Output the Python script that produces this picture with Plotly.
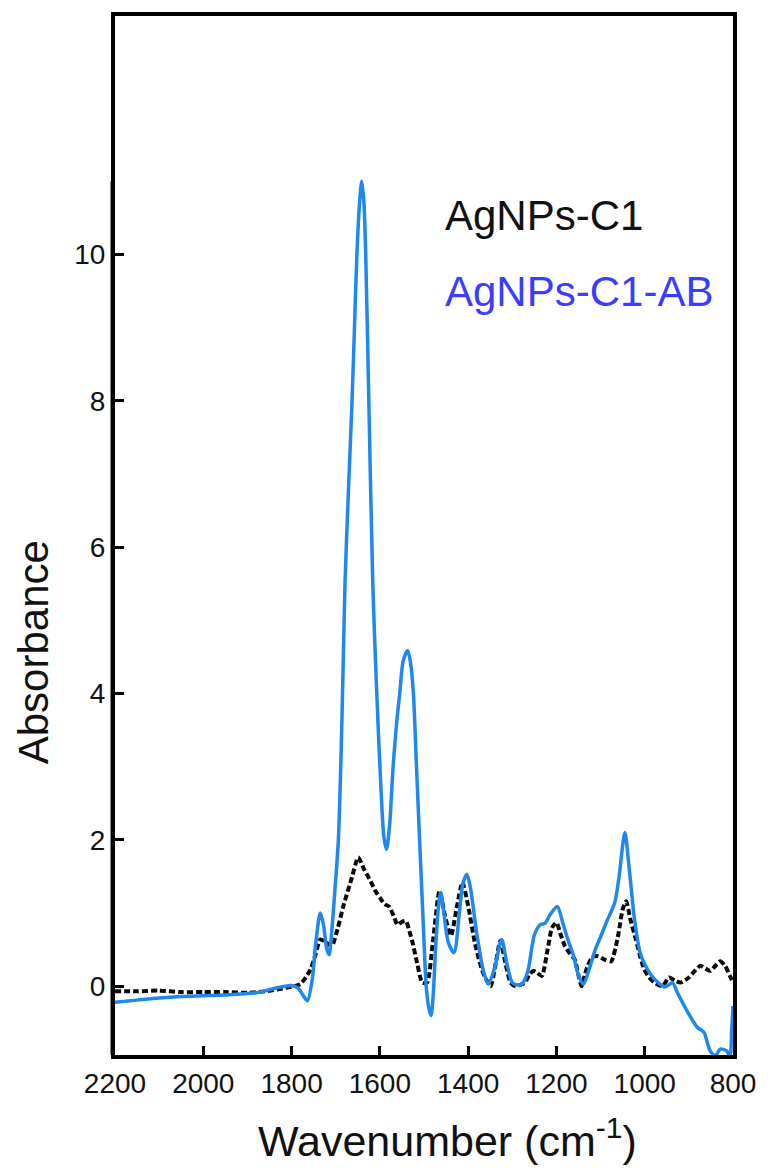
import plotly.graph_objects as go

# ---------------- data ----------------
wn_ab = [2200, 2150, 2100, 2050, 2000, 1950, 1900, 1870, 1840, 1800, 1785, 1770, 1764,
         1753, 1745, 1735, 1728, 1720, 1715, 1709, 1702, 1694, 1686, 1679, 1671, 1663,
         1657, 1652, 1646, 1641, 1636, 1632, 1625, 1616, 1607, 1599, 1591, 1585, 1578,
         1570, 1562, 1555, 1547, 1537, 1530, 1524, 1517, 1510, 1502, 1495, 1489, 1484,
         1479, 1473, 1467, 1462, 1455, 1445, 1432, 1420, 1412, 1403, 1395,
         1380, 1365, 1354, 1340, 1324, 1312, 1300, 1290, 1278, 1265, 1250, 1237, 1226,
         1215, 1198, 1185, 1172, 1163, 1150, 1139, 1125, 1112, 1099, 1085, 1068, 1058,
         1045, 1035, 1023, 1010, 1000, 985, 970, 956, 945, 937, 925, 903, 881, 866, 852,
         840, 829, 815, 807, 803, 800]
abs_ab = [-0.22, -0.19, -0.16, -0.14, -0.13, -0.12, -0.10, -0.08, -0.03, 0.01, -0.03, -0.16, -0.20,
          0.10, 0.60, 1.00, 0.85, 0.50, 0.43, 0.75, 1.30, 2.00, 3.60, 5.50, 6.80, 8.00,
          9.10, 10.00, 10.70, 11.00, 10.70, 10.00, 8.00, 5.50, 4.00, 2.90, 2.05, 1.87, 2.20,
          3.00, 3.60, 4.00, 4.45, 4.59, 4.40, 4.00, 3.00, 2.00, 0.90, 0.00, -0.30, -0.40,
          -0.10, 0.60, 1.10, 1.28, 1.00, 0.60, 0.46, 1.00, 1.40, 1.53, 1.35,
          0.70, 0.20, 0.03, 0.25, 0.64, 0.30, 0.05, 0.02, 0.03, 0.20, 0.70, 0.84, 0.86,
          0.97, 1.09, 0.85, 0.60, 0.45, 0.15, 0.03, 0.25, 0.50, 0.69, 0.90, 1.14, 1.50,
          2.10, 1.60, 0.91, 0.45, 0.30, 0.15, 0.05, -0.01, 0.02, 0.05, -0.10, -0.35, -0.56, -0.63, -0.88,
          -0.95, -0.86, -0.88, -0.95, -0.60, -0.27]

wn_c1 = [2200, 2150, 2100, 2050, 2000, 1950, 1900, 1860, 1820, 1795, 1780, 1770, 1757, 1745,
         1735, 1722, 1709, 1695, 1683, 1665, 1649, 1636, 1623, 1610, 1600, 1589, 1579, 1568,
         1560, 1550, 1541, 1533, 1526, 1515, 1504, 1493, 1480, 1465, 1452, 1439, 1425, 1413,
         1400, 1385, 1370, 1360, 1349, 1338, 1327, 1315, 1304, 1293, 1282, 1271, 1262, 1253,
         1243, 1233, 1220, 1210, 1200, 1190, 1181, 1170, 1159, 1150, 1143, 1136, 1129, 1118,
         1106, 1090, 1076, 1060, 1050, 1042, 1032, 1020, 1010, 1001, 990, 978, 960, 945, 932,
         919, 900, 888, 874, 862, 851, 840, 829, 818, 807, 800]
abs_c1 = [-0.07, -0.07, -0.06, -0.08, -0.08, -0.08, -0.09, -0.07, -0.03, 0.00, 0.03, 0.10, 0.23, 0.45,
          0.64, 0.60, 0.55, 0.80, 1.09, 1.45, 1.76, 1.60, 1.46, 1.30, 1.21, 1.12, 1.09, 0.95,
          0.84, 0.88, 0.89, 0.75, 0.60, 0.30, 0.05, 0.05, 0.60, 1.30, 0.95, 0.69, 1.10, 1.42,
          1.10, 0.60, 0.25, 0.10, 0.00, 0.30, 0.62, 0.30, 0.05, 0.00, 0.02, 0.05, 0.15, 0.21,
          0.18, 0.14, 0.50, 0.80, 0.87, 0.70, 0.55, 0.45, 0.37, 0.15, 0.00, 0.15, 0.28, 0.40,
          0.41, 0.36, 0.34, 0.70, 1.05, 1.16, 0.90, 0.64, 0.40, 0.23, 0.12, 0.05, 0.00, 0.12, 0.08,
          0.05, 0.12, 0.20, 0.28, 0.24, 0.21, 0.28, 0.34, 0.28, 0.14, 0.05]

x_ticks = [2200, 2000, 1800, 1600, 1400, 1200, 1000, 800]
y_ticks = [0, 2, 4, 6, 8, 10]
series_names = ["AgNPs-C1", "AgNPs-C1-AB"]

FONT = "Liberation Sans, Arial, sans-serif"

fig = go.Figure()
fig.add_trace(go.Scatter(x=wn_c1, y=abs_c1, mode="lines", name=series_names[0],
                         line=dict(color="#0a0a0a", width=4, dash="6px,3px", shape="spline", smoothing=0.6)))
fig.add_trace(go.Scatter(x=wn_ab, y=abs_ab, mode="lines", name=series_names[1],
                         line=dict(color="#1e88ee", width=3.5, shape="spline", smoothing=0.8)))

fig.update_layout(
    width=768, height=1169,
    margin=dict(l=115, r=31, t=14, b=114),
    paper_bgcolor="white", plot_bgcolor="white",
    showlegend=False,
    font=dict(family=FONT, color="#111111"),
)
fig.update_xaxes(range=[2200, 800], tickvals=x_ticks, ticks="inside", ticklen=9, tickwidth=3,
                 tickcolor="black", showline=True, linewidth=4, linecolor="black", mirror=True,
                 showgrid=False, zeroline=False, tickfont=dict(size=28, family=FONT, color="#111111"))
fig.update_yaxes(range=[-0.94, 13.26], tickvals=y_ticks, ticks="inside", ticklen=9, tickwidth=3,
                 tickcolor="black", showline=True, linewidth=4, linecolor="black", mirror=True,
                 showgrid=False, zeroline=False, tickfont=dict(size=28, family=FONT, color="#111111"))

# thicker lower part of the left axis
fig.add_shape(type="line", xref="paper", yref="y", x0=-0.004, x1=-0.004, y0=-0.94, y1=11.0,
              line=dict(color="black", width=4))

# axis titles
fig.add_annotation(text="Absorbance", xref="paper", yref="paper", x=-0.132, y=0.388,
                   textangle=-90, showarrow=False, font=dict(size=42, family=FONT, color="#111111"),
                   xanchor="center", yanchor="middle")
fig.add_annotation(text="Wavenumber (cm<sup>-1</sup>)", xref="paper", yref="paper", x=0.538, y=-0.08,
                   showarrow=False, font=dict(size=43, family=FONT, color="#111111"),
                   xanchor="center", yanchor="middle")

# legend text
fig.add_annotation(text=series_names[0], xref="paper", yref="paper", x=0.53, y=0.808,
                   showarrow=False, xanchor="left", yanchor="middle",
                   font=dict(size=42, family=FONT, color="#111111"))
fig.add_annotation(text=series_names[1], xref="paper", yref="paper", x=0.53, y=0.735,
                   showarrow=False, xanchor="left", yanchor="middle",
                   font=dict(size=42, family=FONT, color="#3a3cff"))

fig.write_html("out.html")
